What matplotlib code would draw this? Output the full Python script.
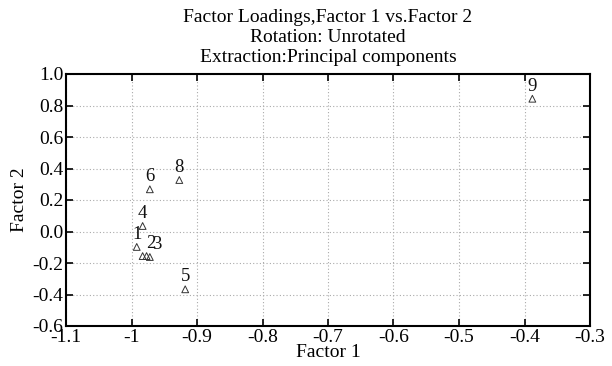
import matplotlib
matplotlib.use("Agg")
import matplotlib.pyplot as plt
import numpy as np

labels = ['1', '2', '3', '4', '5', '6', '', '8', '9']
factor1 = [-0.992, -0.977, -0.972, -0.983, -0.918, -0.972, -0.983, -0.927, -0.388]
factor2 = [-0.098, -0.156, -0.162, 0.035, -0.367, 0.268, -0.156, 0.327, 0.843]
label_dx = [0, 3, 5, 0, 0, 0, 0, 0, 0]  # points, shift of number labels

xticks = [-1.1, -1.0, -0.9, -0.8, -0.7, -0.6, -0.5, -0.4, -0.3]
xticklabels = ['-1.1', '-1', '-0.9', '-0.8', '-0.7', '-0.6', '-0.5', '-0.4', '-0.3']
yticks = [1.0, 0.8, 0.6, 0.4, 0.2, 0.0, -0.2, -0.4, -0.6]
yticklabels = ['1.0', '0.8', '0.6', '0.4', '0.2', '0.0', '-0.2', '-0.4', '-0.6']

plt.rcParams['font.family'] = ['Liberation Serif', 'DejaVu Serif']

fig = plt.figure(figsize=(6.12, 3.66), dpi=100)
W, H = 612, 366
ax = fig.add_axes([66 / W, 1 - 326 / H, (590 - 66) / W, (326 - 74) / H])

ax.scatter(factor1, factor2, marker='^', s=24, facecolors='none',
           edgecolors='#333333', linewidths=0.7, zorder=3)
for xv, yv, lab, dx in zip(factor1, factor2, labels, label_dx):
    ax.annotate(lab, (xv, yv), xytext=(dx, 3), textcoords='offset points',
                ha='center', va='bottom', fontsize=13.5, color='#111111')

ax.set_xlim(-1.1, -0.3)
ax.set_ylim(-0.6, 1.0)
ax.set_xticks(xticks)
ax.set_xticklabels(xticklabels)
ax.set_yticks(yticks)
ax.set_yticklabels(yticklabels)
ax.tick_params(direction='in', length=5, width=1.2, labelsize=14,
               top=True, right=True, pad=2, colors='black')
ax.grid(True, linestyle=(0, (1, 2)), color='#aaaaaa', linewidth=0.8)
for sp in ax.spines.values():
    sp.set_linewidth(1.5)

ax.set_xlabel('Factor 1', fontsize=14, labelpad=-1)
ax.set_ylabel('Factor 2', fontsize=14, labelpad=3)

cx = 0.5 * (66 + 590) / W
fig.text(cx, 1 - 18 / H, 'Factor Loadings,Factor 1 vs.Factor 2',
         ha='center', va='center', fontsize=14)
fig.text(cx, 1 - 38 / H, 'Rotation: Unrotated',
         ha='center', va='center', fontsize=14)
fig.text(cx, 1 - 57 / H, 'Extraction:Principal components',
         ha='center', va='center', fontsize=14)

fig.savefig('out.png', dpi=100)
